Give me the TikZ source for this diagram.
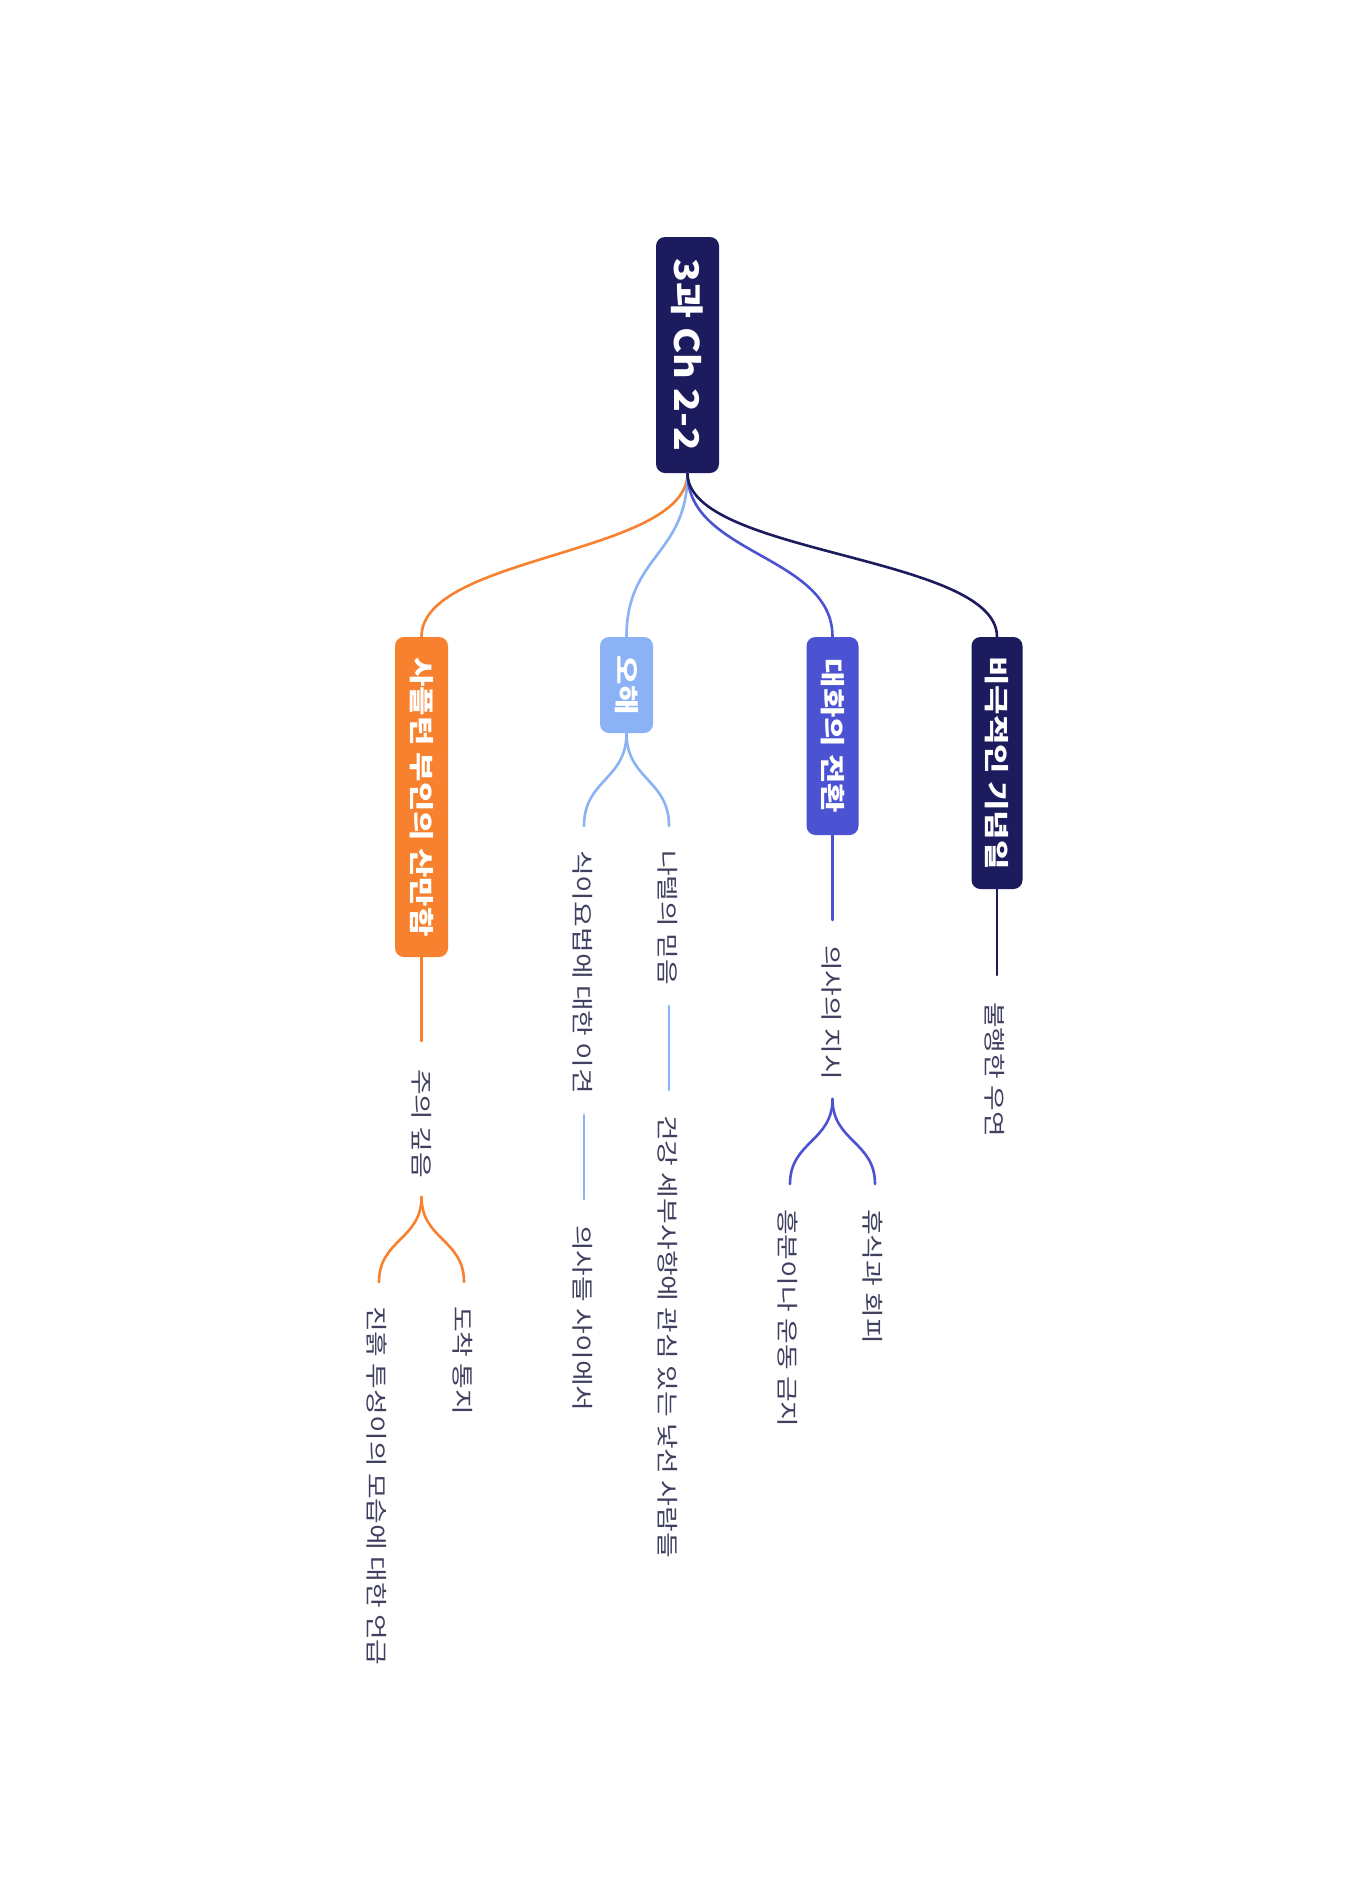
\documentclass[tikz,border=0pt]{standalone}
\usepackage{fontspec}
\newfontfamily\kr{Noto Sans CJK KR}
\usetikzlibrary{calc}
\definecolor{navy}{HTML}{1C1B5E}
\definecolor{orng}{HTML}{F7812E}
\definecolor{lblue}{HTML}{8AB2F5}
\definecolor{mblue}{HTML}{4B53D3}
\definecolor{leafc}{HTML}{404060}
\tikzset{
  box/.style={rounded corners=9pt, inner sep=0pt},
  btxt/.style={rotate=-90, xscale=1.28, font=\kr\bfseries\fontsize{25}{30}\selectfont, text=white, inner sep=0pt},
  leaf/.style={rotate=-90, xscale=1.27, font=\kr\fontsize{22}{26}\selectfont, text=leafc, inner sep=0pt, anchor=west},
  conn/.style={line width=2.6pt, line cap=round},
  sc/.style={to path={.. controls ($(\tikztostart)!0.5!(\tikztostart|-\tikztotarget)$) and ($(\tikztotarget)!0.5!(\tikztotarget|-\tikztostart)$) .. (\tikztotarget)}}
}
\begin{document}
\begin{tikzpicture}[x=1pt,y=-1pt]
\fill[white] (0,0) rectangle (1346,1904);
\useasboundingbox (0,0) rectangle (1346,1904);

% boxes
\node[box, fill=navy, minimum width=63pt, minimum height=236pt] (root) at (687.5,355) {};
\node[btxt, xscale=0.9, font=\kr\bfseries\fontsize{34}{40}\selectfont] (rootT) at (root.center) {3과 Ch 2-2};

\node[box, fill=orng, minimum width=53pt, minimum height=320pt] (n1) at (421.5,797) {};
\node[btxt] (n1T) at (n1.center) {사플턴 부인의 산만함};

\node[box, fill=lblue, minimum width=53pt, minimum height=96pt] (n2) at (626.5,685) {};
\node[btxt] (n2T) at (n2.center) {오해};

\node[box, fill=mblue, minimum width=52pt, minimum height=198pt] (n3) at (832.5,736) {};
\node[btxt] (n3T) at (n3.center) {대화의 전환};

\node[box, fill=navy, minimum width=51pt, minimum height=252pt] (n4) at (997,763) {};
\node[btxt] (n4T) at (n4.center) {비극적인 기념일};

% root connectors
\draw[conn, orng] (root.south) to[sc] (n1.north);
\draw[conn, lblue] (root.south) to[sc] (n2.north);
\draw[conn, mblue] (root.south) to[sc] (n3.north);
\draw[conn, navy] (root.south) to[sc] (n4.north);

% orange branch
\coordinate (a1) at (421.5,1041);
\draw[conn, orng] (n1.south) -- (a1);
\node[leaf] (t11) at (421.5,1069) {주의 깊음};
\coordinate (f1) at (421.5,1197);
\coordinate (e12) at (464,1282);
\coordinate (e13) at (379,1282);
\draw[conn, orng] (f1) to[sc] (e12);
\draw[conn, orng] (f1) to[sc] (e13);
\node[leaf] (t12) at (463,1306) {도착 통지};
\node[leaf] (t13) at (377,1306) {진흙 투성이의 모습에 대한 언급};

% light blue branch
\coordinate (e21) at (669,826);
\coordinate (e23) at (584,826);
\draw[conn, lblue] (n2.south) to[sc] (e21);
\draw[conn, lblue] (n2.south) to[sc] (e23);
\node[leaf] (t21) at (668,850) {나텔의 믿음};
\coordinate (l21a) at (669,1006);
\coordinate (l21b) at (669,1090);
\draw[conn, lblue] (l21a) -- (l21b);
\node[leaf] (t22) at (668,1115) {건강 세부사항에 관심 있는 낯선 사람들};
\node[leaf] (t23) at (583,850) {식이요법에 대한 이견};
\coordinate (l23a) at (584,1115);
\coordinate (l23b) at (584,1199);
\draw[conn, lblue] (l23a) -- (l23b);
\node[leaf] (t24) at (583,1225) {의사들 사이에서};

% blue branch
\coordinate (a3) at (832.5,920);
\draw[conn, mblue] (n3.south) -- (a3);
\node[leaf] (t31) at (832,945) {의사의 지시};
\coordinate (f3) at (832.5,1099);
\coordinate (e32) at (875,1184);
\coordinate (e33) at (790,1184);
\draw[conn, mblue] (f3) to[sc] (e32);
\draw[conn, mblue] (f3) to[sc] (e33);
\node[leaf] (t32) at (873,1209) {휴식과 회피};
\node[leaf] (t33) at (788,1209) {흥분이나 운동 금지};

% navy branch
\coordinate (a4) at (997,975);
\draw[conn, navy] (n4.south) -- (a4);
\node[leaf] (t41) at (995,1002) {불행한 우연};
\end{tikzpicture}
\end{document}
